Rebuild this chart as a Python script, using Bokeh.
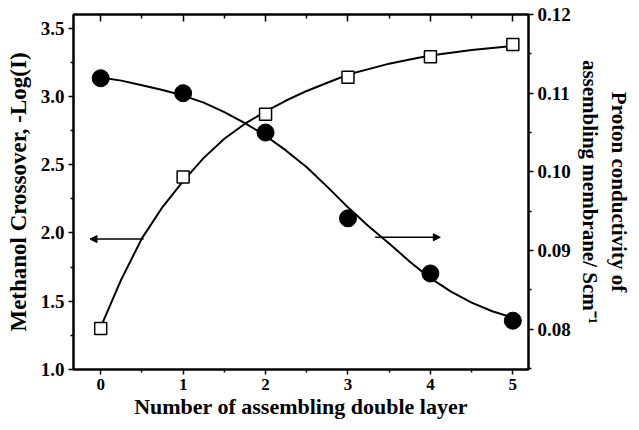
from bokeh.plotting import figure
from bokeh.models import (Range1d, LinearAxis, FixedTicker, PrintfTickFormatter,
                          Arrow, NormalHead)
from bokeh.embed import file_html
from bokeh.resources import INLINE

# ---- data ----
layers = [0, 1, 2, 3, 4, 5]
crossover = [1.30, 2.41, 2.87, 3.14, 3.29, 3.38]            # left axis, squares
conductivity = [0.1119, 0.1100, 0.1050, 0.0941, 0.0871, 0.0811]  # right axis, circles

# fitted curves
fit_x = [0, 0.25, 0.5, 0.75, 1, 1.25, 1.5, 1.75, 2, 2.25, 2.5, 2.75, 3, 3.25, 3.5, 3.75, 4, 4.25, 4.5, 4.75, 5]
fit_crossover = [1.31, 1.66, 1.96, 2.19, 2.38, 2.55, 2.69, 2.80, 2.89, 2.97, 3.04, 3.10, 3.16, 3.20, 3.24, 3.27, 3.30, 3.32, 3.34, 3.355, 3.37]
fit_conductivity = [0.1120, 0.1116, 0.1110, 0.1104, 0.1097, 0.1088, 0.1076, 0.1062, 0.1046, 0.1027, 0.1006, 0.0981, 0.0955, 0.0931, 0.0909, 0.0886, 0.0865, 0.0848, 0.0834, 0.0823, 0.0815]

x_ticks = [0, 1, 2, 3, 4, 5]
left_ticks = [1.0, 1.5, 2.0, 2.5, 3.0, 3.5]
right_ticks = [0.08, 0.09, 0.10, 0.11, 0.12]

FONT = "Liberation Serif"

p = figure(width=639, height=430, output_backend="svg", toolbar_location=None,
           x_range=Range1d(-0.33, 5.19), y_range=Range1d(1.0, 3.60),
           min_border_left=73, min_border_right=111, min_border_top=14, min_border_bottom=61,
           background_fill_color="white", border_fill_color="white")
p.extra_y_ranges = {"right": Range1d(0.0749, 0.12)}
p.xgrid.visible = False
p.ygrid.visible = False
p.outline_line_color = "black"
p.outline_line_width = 2

def style(ax, size, label_size="22px"):
    ax.axis_line_width = 2
    ax.axis_line_color = "black"
    ax.major_tick_line_width = 1.5
    ax.minor_tick_line_width = 1.5
    ax.major_tick_in = 0
    ax.major_tick_out = 5
    ax.minor_tick_in = 0
    ax.minor_tick_out = 3
    ax.major_label_text_font = FONT
    ax.major_label_text_font_style = "bold"
    ax.major_label_text_font_size = size
    ax.major_label_text_color = "black"
    ax.axis_label_text_font = FONT
    ax.axis_label_text_font_style = "bold"
    ax.axis_label_text_font_size = label_size
    ax.axis_label_text_color = "black"

# bottom axis
xa = p.xaxis[0]
xa.ticker = FixedTicker(ticks=x_ticks, minor_ticks=[t + 0.5 for t in x_ticks[:-1]] + [-0.5])
xa.formatter = PrintfTickFormatter(format="%d")
xa.axis_label = "Number of assembling double layer"
style(xa, "17px", "22px")
xa.major_label_standoff = 4
xa.axis_label_standoff = 1

# left axis
ya = p.yaxis[0]
ya.ticker = FixedTicker(ticks=left_ticks, minor_ticks=[t + 0.25 for t in left_ticks])
ya.formatter = PrintfTickFormatter(format="%.1f")
ya.axis_label = "Methanol Crossover, -Log(I)"
style(ya, "19px", "23px")
ya.major_label_standoff = 4
ya.axis_label_standoff = 7

# right axis
ra = LinearAxis(y_range_name="right",
                ticker=FixedTicker(ticks=right_ticks, minor_ticks=[t + 0.005 for t in right_ticks] + [0.075]),
                formatter=PrintfTickFormatter(format="%.2f"),
                axis_label="Proton conductivity of\nassembling membrane/ Scm\u207b\u00b9")
style(ra, "19px", "21px")
ra.major_label_standoff = 4
ra.axis_label_standoff = 4
p.add_layout(ra, "right")

# top axis: inward ticks, no labels
ta = LinearAxis(ticker=FixedTicker(ticks=x_ticks, minor_ticks=[t + 0.5 for t in x_ticks[:-1]] + [-0.5]),
                major_label_overrides={t: "" for t in x_ticks})
style(ta, "10px")
ta.major_tick_in = 7
ta.major_tick_out = 0
ta.minor_tick_in = 4
ta.minor_tick_out = 0
ta.major_label_standoff = 0
p.add_layout(ta, "above")

# curves
p.line(fit_x, fit_crossover, line_color="black", line_width=2)
p.line(fit_x, fit_conductivity, line_color="black", line_width=2, y_range_name="right")

# markers
p.scatter(layers, crossover, marker="square", size=12, fill_color="white",
          line_color="black", line_width=1.5)
p.scatter(layers, conductivity, marker="circle", size=17, fill_color="black",
          line_color="black", y_range_name="right")

# arrows
p.add_layout(Arrow(end=NormalHead(size=7, fill_color="black", line_color="black"),
                   x_start=0.52, y_start=1.955, x_end=-0.13, y_end=1.955,
                   line_width=1.5, line_color="black"))
p.add_layout(Arrow(end=NormalHead(size=7, fill_color="black", line_color="black"),
                   x_start=3.33, y_start=0.0917, x_end=4.12, y_end=0.0917,
                   line_width=1.5, line_color="black", y_range_name="right"))

open("out.html", "w").write(file_html(p, INLINE))
